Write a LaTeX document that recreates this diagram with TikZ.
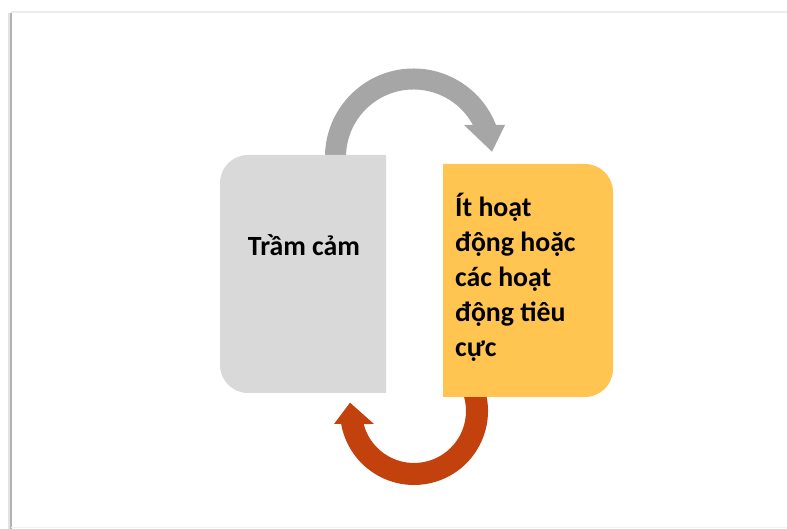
\documentclass[tikz,border=0pt]{standalone}
\usepackage{fontspec}
\setmainfont{Carlito}
\usetikzlibrary{calc}
\definecolor{boxgray}{HTML}{D9D9D9}
\definecolor{boxgold}{HTML}{FFC550}
\definecolor{arrowgray}{HTML}{A6A6A6}
\definecolor{arrowrust}{RGB}{194,65,12}
\begin{document}
\begin{tikzpicture}[x=1pt,y=1pt,
  boxtext/.style={font=\bfseries\fontsize{27.8}{35}\selectfont, text=black, inner sep=0pt},
  frameline/.style={line width=#1}]
\useasboundingbox (0,0) rectangle (787,529);
% slide frame with soft shadow
\draw[frameline=3pt, gray!22] (9.5,0) -- (9.5,516);
\draw[frameline=1.5pt, gray!60] (11,0) -- (11,516);
\draw[frameline=2pt, gray!15] (11,516.5) -- (787,516.5);
\draw[frameline=1pt, gray!10] (11,1.5) -- (787,1.5);

% upper curved arrow (grey)
\coordinate (uc) at (413.5,372);
\fill[arrowgray] ($(uc)+(182:88.5)$) arc[start angle=182,end angle=21.2,radius=88.5]
  -- (505,404) -- (492,377.3) -- (464,404)
  -- ($(uc)+(28.3:67.5)$) arc[start angle=28.3,end angle=182,radius=67.5] -- cycle;

% lower curved arrow (rust)
\coordinate (lc) at (414,118);
\fill[arrowrust] ($(lc)+(20:74)$) arc[start angle=20,end angle=-169.9,radius=74]
  -- (334,105) -- (350,126.3) -- (374,105)
  -- ($(lc)+(-165.5:52)$) arc[start angle=-165.5,end angle=20,radius=52] -- cycle;

% left box, rounded on the left side
\fill[boxgray] (386,136) -- (248,136) arc[start angle=270,end angle=180,radius=28]
  -- (220,346) arc[start angle=180,end angle=90,radius=28] -- (386,374) -- cycle;
% right box, rounded on the right side
\fill[boxgold] (443,132) -- (585,132) arc[start angle=-90,end angle=0,radius=28]
  -- (613,337) arc[start angle=0,end angle=90,radius=28] -- (443,365) -- cycle;

\node[boxtext, anchor=base] (sad) at (304,273) {Trầm cảm};
% anchor base of a multi-line node sits on its last line
\node[boxtext, align=left, anchor=base west] (act) at (455,172.3)
  {Ít hoạt\\động hoặc\\các hoạt\\động tiêu\\cực};
\end{tikzpicture}
\end{document}
